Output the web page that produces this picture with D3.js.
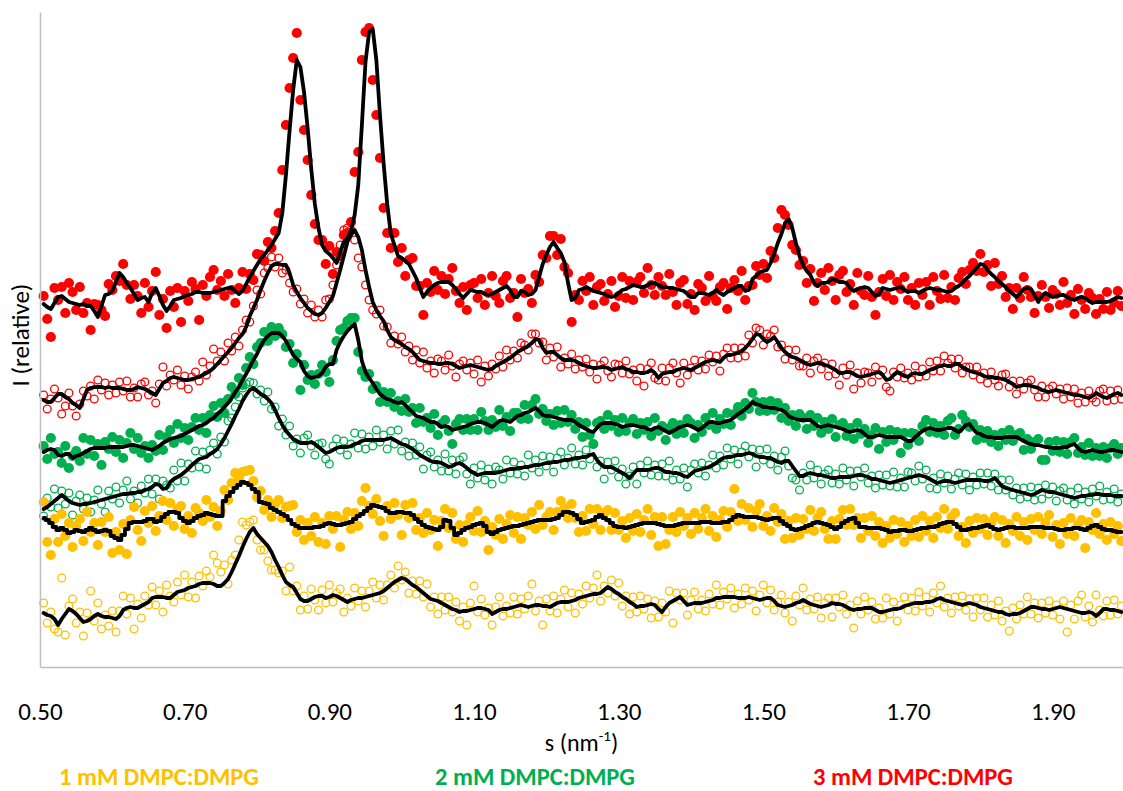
<!DOCTYPE html>
<html>
<head>
<meta charset="utf-8">
<script src="https://cdn.jsdelivr.net/npm/d3@7"></script>
<style>
html, body { margin: 0; padding: 0; background: #fff; }
svg { display: block; }
text { font-family: Carlito, Calibri, Lato, "Liberation Sans", sans-serif; }
</style>
</head>
<body>
<svg id="chart" width="1123" height="791"></svg>
<script>
// Sampling grid of the scattering vector s (nm^-1): first point and spacing
const sStart = 0.505;
const sStep = 0.005;

const xTicks = [0.50, 0.70, 0.90, 1.10, 1.30, 1.50, 1.70, 1.90];
const legendLabels = ["1 mM DMPC:DMPG", "2 mM DMPC:DMPG", "3 mM DMPC:DMPG"];
const legendColors = ["#ffc000", "#00b050", "#ff0000"];

// ---- 3 mM, solid markers: fitted curve (relative intensity, stacked) ----
const fit3Solid = [
363,360,358,364,370,371,368,365,364,363,
362,363,361,361,356,350,361,372,373,376,
385,394,390,384,379,373,367,369,370,365,
374,379,371,362,356,361,367,368,369,371,
372,373,375,375,374,374,374,375,376,377,
378,379,379,376,373,376,383,390,396,402,
408,412,417,422,428,434,454,492,536,577,
607,600,575,539,498,463,439,422,416,413,
409,404,415,425,429,437,452,482,542,605,
635,638,607,552,504,463,433,422,411,409,
406,403,396,389,379,370,375,379,382,384,
385,385,385,382,378,373,369,373,377,376,
375,375,373,372,373,375,377,379,381,377,
370,370,376,375,372,373,377,390,403,412,
420,425,419,414,405,384,367,369,377,378,
380,378,376,375,374,373,371,370,371,374,
377,378,380,382,381,380,380,382,384,384,
382,380,380,379,379,378,377,376,373,370,
370,374,374,373,372,374,377,374,372,375,
377,379,381,381,376,377,388,391,395,396,
397,404,413,424,433,444,448,439,424,411,
402,396,392,384,381,384,384,385,388,387,
385,385,384,379,376,378,379,380,379,375,
371,373,379,378,377,378,379,380,377,375,
376,376,374,376,378,379,378,377,377,376,
375,376,379,381,384,388,391,395,399,403,
402,397,393,390,386,383,380,376,373,370,
374,378,379,378,372,365,371,374,372,370,
371,372,372,370,368,367,369,370,369,366,
364,365,365,365,365,366,368,370,369];
// measured points minus the fitted curve
const dev3Solid = [
8,-12,-28,15,-3,9,-14,19,11,-6,
18,-9,3,-24,7,12,-4,-21,10,1,
6,-8,13,-2,-11,9,4,-15,14,-5,
2,16,-19,6,-17,15,-7,11,-24,5,
-6,12,3,-28,8,-3,16,22,1,9,
-7,14,-2,-12,6,19,-5,3,-9,11,
4,-6,8,-3,8,20,43,50,43,32,
27,-33,-38,-32,-26,-20,-12,5,-13,8,
-16,11,-4,7,5,8,43,33,65,30,
4,-51,-55,-43,-45,-29,-14,12,-6,10,
-15,4,13,-8,2,-18,9,-4,14,-7,
6,-12,3,17,-2,-9,11,-16,5,8,
-6,13,-11,2,18,-4,-13,7,10,-8,
4,-20,12,-1,6,-9,15,-5,9,-3,
11,6,-7,14,-5,10,-22,3,-10,8,
-4,12,-14,5,9,-7,2,16,-11,-3,
13,-9,6,-15,4,10,-6,17,-2,-12,
8,1,-8,14,-4,-16,7,11,-10,3,
-13,9,5,-7,19,-3,-11,6,12,-17,
2,8,-5,15,-9,4,-6,10,-3,7,
-8,12,-4,15,24,8,-6,-17,-7,-9,
4,-12,6,-18,3,10,-7,14,-2,-20,
7,11,-9,4,-14,16,-3,-8,12,-5,
-19,2,9,-7,15,-11,6,-2,13,-8,
3,-14,10,-4,7,-17,12,-1,-9,16,
-6,4,-12,8,11,-5,6,9,-3,10,
-7,5,-12,14,-3,8,-10,3,-15,9,
-5,12,-2,-8,-18,6,11,-4,-13,7,
2,-10,13,-6,4,-14,9,-3,-11,8,
5,-12,3,-7,10,-9,-4,6,-8];

// ---- 3 mM, open markers ----
const fit3Open = [
267,265,265,269,273,273,270,268,264,262,
259,268,277,279,280,280,280,279,280,279,
279,279,278,277,277,278,280,279,278,276,
274,272,278,284,286,289,290,289,288,287,
287,288,289,290,292,294,296,299,303,307,
311,315,319,324,329,333,340,351,359,367,
377,386,394,401,403,403,402,402,394,382,
375,369,364,359,356,353,352,354,359,365,
371,384,397,411,425,432,437,430,417,397,
380,365,357,351,346,337,330,327,325,323,
320,318,315,311,307,306,305,304,304,303,
303,304,304,303,301,299,300,301,302,301,
300,299,298,297,298,301,303,305,307,309,
312,315,317,319,321,324,328,327,319,314,
315,315,312,309,307,307,307,306,304,302,
301,300,299,299,300,300,299,297,298,299,
300,298,297,295,295,294,294,295,297,294,
289,293,294,295,295,297,298,299,298,297,
299,301,303,305,306,307,306,305,309,312,
312,313,314,316,319,323,328,333,332,328,
325,327,330,325,319,315,312,310,309,307,
305,303,302,303,304,304,302,301,299,297,
294,294,295,295,293,291,290,291,292,293,
294,295,292,287,288,292,295,293,291,290,
293,294,293,293,295,297,298,300,301,302,
301,301,303,303,300,298,296,295,294,293,
291,290,290,289,289,288,287,285,283,280,
281,282,282,281,280,279,277,276,275,276,
277,276,275,274,273,272,272,271,270,269,
271,274,272,270,269,271,273,274,272];
const dev3Open = [
5,-7,3,9,-4,-20,-9,6,-3,-11,
4,8,-6,2,-12,7,-3,5,-8,3,
-5,6,-2,9,-7,1,-10,4,7,-4,
2,-8,5,16,-5,3,-3,8,-6,4,
-9,2,6,-4,13,-2,5,19,3,8,
-5,9,-3,6,-8,4,7,-6,2,10,
-4,8,5,9,-3,6,-8,-5,-10,-7,
3,-6,4,-5,6,-3,5,-4,8,3,
11,18,25,26,14,5,-10,-21,-17,-15,
-13,-8,-4,6,-5,3,-6,4,-2,7,
-5,3,-8,6,-3,9,-6,2,-10,5,
3,-7,8,-2,-11,4,6,-4,2,-8,
7,-14,3,-6,5,-3,8,-5,10,-2,
4,-6,7,3,-4,9,5,-3,6,-7,
4,-5,8,-9,2,-4,6,-8,3,-2,
7,-5,4,-11,2,6,-3,-7,5,3,
-6,8,-4,2,-9,5,-13,3,7,-5,
-2,6,-8,4,9,-3,-14,5,-6,2,
8,-4,3,-7,6,-2,5,-9,4,7,
-3,6,-5,3,-8,9,-4,6,5,-6,
8,4,7,-5,3,-7,5,-3,8,-6,
-4,6,-8,3,5,-6,2,-10,4,-4,
-12,5,-3,7,-15,3,-6,4,2,-8,
6,-3,5,-7,-12,3,-5,6,-2,4,
-6,7,-3,5,-4,8,-2,6,-5,9,
3,7,-4,5,-6,2,4,-3,6,-5,
3,-6,5,-2,-8,4,6,-5,3,-7,
5,-4,2,6,-3,-9,4,-6,3,5,
-4,2,-7,5,-3,6,-8,3,-5,7,
-2,-9,4,8,-3,5,-6,3,-4];

// ---- 2 mM, solid markers ----
const fit2Solid = [
215,217,218,217,212,211,213,213,209,211,
212,214,216,218,219,219,219,219,220,220,
220,220,220,221,222,222,221,220,219,218,
217,219,221,224,226,228,229,230,231,233,
235,237,239,241,242,244,247,249,253,256,
260,264,269,275,280,287,293,300,307,313,
321,327,331,334,334,334,331,326,319,312,
308,305,296,291,289,290,291,294,300,303,
303,317,325,331,336,340,343,327,306,295,
289,284,278,273,270,268,267,265,264,265,
262,258,255,251,250,249,247,245,245,243,
240,241,240,237,238,239,240,241,243,244,
245,245,244,242,240,243,246,247,246,245,
248,251,252,254,255,257,259,256,252,251,
251,250,249,248,247,247,247,245,242,240,
238,236,235,239,243,244,244,244,243,242,
240,241,242,242,241,240,240,238,237,239,
240,238,236,234,236,238,240,241,242,241,
239,237,239,242,245,245,244,244,245,246,
247,250,253,255,258,261,265,263,262,260,
260,259,259,258,257,255,251,249,248,247,
247,247,247,244,241,240,241,242,241,240,
239,238,236,235,236,237,236,233,230,230,
231,232,231,230,230,230,230,230,228,226,
226,230,233,236,238,239,238,237,237,238,
239,239,237,235,238,242,243,238,234,233,
231,230,230,229,229,229,230,230,230,230,
228,226,224,223,222,222,221,220,220,219,
219,219,220,220,222,223,219,216,215,216,
217,216,215,215,216,217,217,216,215];
const dev2Solid = [
6,-9,11,-4,3,-7,8,-14,2,5,
-6,15,-3,9,-8,4,-17,6,-2,10,
-5,7,-11,3,12,-4,8,-6,2,-9,
5,-3,11,-7,4,9,-5,13,-2,6,
-8,3,10,-4,7,-10,5,12,-3,8,
-6,4,11,-2,9,-5,6,10,-4,7,
3,8,-5,6,-3,5,2,-6,4,-8,
5,-28,6,-4,3,-7,2,8,-5,-18,
4,9,12,8,10,9,6,-12,-10,-5,
4,-6,3,-8,5,-3,7,-5,2,-9,
6,-3,4,-7,9,-4,2,-6,8,-11,
3,6,-4,-14,5,9,-3,7,-6,4,
-8,10,2,-5,7,-3,11,-6,4,-9,
6,3,-4,8,-7,5,9,-3,6,-5,
2,-8,7,-4,10,-2,5,-7,3,-10,
6,-4,-12,5,3,-6,8,-3,4,-7,
9,-5,2,6,-8,4,-3,7,-6,10,
-4,3,-9,5,8,-5,2,-7,6,3,
-10,5,-4,7,-3,9,-6,4,-2,8,
-5,3,7,-4,6,-3,9,2,-6,5,
-4,7,-2,6,-8,4,-5,3,-7,6,
2,-9,5,-3,8,-6,4,-4,7,-10,
3,6,-5,4,-8,7,-3,5,-6,2,
8,-14,4,-5,7,-3,5,-16,6,-4,
8,3,-7,5,9,-4,6,-3,4,-6,
7,10,-5,3,14,4,-3,5,-7,4,
-2,6,-5,3,-8,5,-3,7,-4,2,
6,-9,4,-5,3,6,-14,-13,5,-3,
7,-4,5,-7,3,6,-5,4,-3,8,
-6,3,-4,5,-7,2,6,-3,4];

// ---- 2 mM, open markers ----
const fit2Open = [
158,160,163,166,169,172,169,166,164,163,
162,163,163,164,165,166,167,168,169,170,
171,172,173,173,174,174,175,175,177,178,
180,183,182,178,179,185,188,190,192,195,
198,202,205,208,209,210,213,215,218,223,
229,236,243,251,258,266,272,277,279,276,
273,271,268,264,257,249,242,236,232,228,
226,224,224,224,225,223,220,217,214,215,
217,219,220,220,220,221,223,224,226,227,
227,227,227,227,227,228,229,227,225,223,
222,220,218,215,212,210,208,206,205,205,
204,202,200,201,203,204,202,199,196,194,
192,193,194,194,194,194,195,196,197,198,
198,199,199,200,200,201,202,202,203,204,
204,205,205,206,207,207,208,209,209,210,
210,212,213,207,203,200,200,200,198,196,
194,192,189,193,197,197,197,197,198,199,
199,197,195,195,194,194,193,191,190,193,
196,197,198,199,200,202,204,207,209,210,
210,211,212,212,213,214,213,211,210,210,
209,209,207,205,204,206,206,201,196,191,
191,193,194,193,192,192,191,190,189,189,
190,190,190,190,191,192,192,191,190,188,
188,187,186,185,184,185,186,187,188,189,
190,191,192,191,190,188,186,184,185,186,
186,185,184,185,186,187,187,187,187,187,
186,186,187,189,185,181,179,178,177,176,
175,174,173,172,173,175,177,176,175,175,
174,173,172,171,170,169,170,171,171,172,
172,173,173,172,172,172,171,171,171];
const dev2Open = [
-7,9,-3,12,-10,4,-6,8,-12,3,
10,-5,6,-9,2,11,-4,-13,7,-2,
9,-8,4,13,-6,2,-11,6,-3,10,
-7,5,-14,8,3,-6,9,-4,12,-9,
5,-3,11,-8,6,-12,4,9,-5,7,
-4,10,6,9,12,13,11,8,5,-3,
4,-5,7,-6,3,-8,6,-4,9,-7,
2,-10,5,8,-4,-11,3,7,-6,-12,
4,9,-3,6,-8,2,11,-5,7,-9,
3,-6,10,-2,5,-10,7,-4,12,-7,
3,-9,6,-3,8,-12,4,9,-5,2,
-8,11,-4,6,-10,3,8,-6,-13,5,
-3,9,-7,4,-11,6,2,-8,10,-4,
7,-6,3,-9,12,-2,5,-7,8,-3,
6,-10,4,9,-5,2,11,-6,3,-8,
7,-4,10,-7,3,-12,5,-3,8,-6,
4,-9,2,7,-14,5,-3,9,-6,3,
-8,6,-4,11,-7,3,-5,8,-10,4,
7,-3,6,-8,2,10,-5,4,-7,9,
-2,6,-9,3,8,-4,5,-11,7,-3,
9,-6,4,-8,6,10,-5,-12,-9,-14,
3,-6,8,-4,5,-9,2,7,-5,4,
-7,9,-3,6,-10,4,-2,8,-6,3,
-9,5,-4,7,-3,10,-6,2,-8,6,
4,-5,9,-3,7,-9,3,-6,8,-2,
5,-7,4,9,-4,6,-10,3,-5,7,
-3,8,-6,4,-8,6,-2,9,-5,3,
-7,5,-3,8,-6,4,-9,6,-2,5,
-8,3,7,-4,5,-6,9,-3,4,-7,
6,-2,8,-5,3,-4,7,-6,2];

// ---- 1 mM, solid markers ----
const fit1Solid = [
149,147,144,140,137,139,137,134,135,137,
136,135,137,139,137,135,136,137,136,131,
129,127,132,138,144,145,145,145,146,148,
148,145,146,150,153,155,155,154,149,146,
144,146,149,151,152,154,153,152,151,151,
166,171,175,179,182,185,184,182,178,175,
165,164,163,159,157,155,153,151,147,143,
141,139,139,139,139,140,140,141,143,144,
143,142,142,143,144,145,148,151,153,156,
159,162,161,160,159,156,154,154,155,155,
154,154,152,148,145,142,140,139,138,137,
140,147,146,139,132,134,137,139,140,142,
143,144,141,135,133,135,137,138,139,140,
141,141,142,143,144,145,146,147,147,147,
147,148,149,152,155,155,154,152,148,144,
145,146,147,150,152,149,147,144,141,140,
140,139,140,141,142,143,144,144,144,144,
143,142,141,141,141,142,143,144,144,144,
144,144,145,145,145,144,144,144,145,145,
147,150,152,151,150,150,150,150,149,148,
147,148,149,149,146,143,141,138,137,138,
139,141,142,144,145,144,143,142,140,138,
140,144,146,148,149,144,140,140,139,139,
139,139,138,137,135,136,136,137,137,136,
136,137,138,139,139,140,140,141,143,144,
145,145,143,140,137,137,138,139,139,140,
141,142,140,138,137,138,139,140,140,139,
139,139,139,140,140,140,140,139,139,139,
138,137,137,138,138,139,139,138,137,139,
141,142,140,138,137,137,136,135,135];
const dev1Solid = [
16,-22,-32,8,-12,14,-6,10,-15,4,
12,-9,18,-4,7,-13,9,-2,14,-17,
6,-10,11,-25,3,15,-8,-19,10,-4,
13,-9,5,16,-6,9,-14,4,12,-8,
7,-12,10,3,-6,13,-3,8,-10,5,
11,-4,9,15,6,10,12,15,8,-5,
11,-7,4,-9,6,12,-4,9,14,19,
-6,8,-12,5,-8,10,-15,3,-20,7,
-5,9,-22,4,11,-7,6,-10,13,23,
2,-9,7,-14,-28,5,-6,10,-3,-23,
8,-5,12,-11,4,-8,14,-2,9,-16,
6,11,-7,15,-4,8,-12,3,10,-6,
13,-9,5,-18,7,-3,11,-10,4,12,
-7,9,-14,6,-2,10,-8,15,-5,3,
8,-11,6,14,4,-6,9,-3,-13,7,
-9,12,-4,8,-15,5,10,-7,13,-3,
6,-10,9,-5,11,-8,3,14,-12,6,
-22,8,-18,-4,9,-7,12,-3,5,-11,
10,-6,4,13,-9,7,-14,3,11,-5,
8,28,-6,12,-3,9,-10,6,14,-7,
4,-12,10,-4,7,-15,5,-9,12,-6,
9,-3,15,-8,4,11,-5,-14,6,-10,
8,13,-4,10,-7,5,-11,9,-3,12,
-8,6,-14,4,-6,11,-3,8,-12,5,
-5,10,-8,12,-3,6,-11,9,-4,14,
-7,5,11,-9,3,-13,8,-5,10,-2,
7,-10,4,12,-6,9,-15,3,-4,11,
-8,6,-12,8,-3,10,-7,5,13,-9,
4,-14,7,-5,11,-8,3,9,-18,6,
-4,12,-7,5,-10,8,-3,6,-9];

// ---- 1 mM, open markers ----
const fit1Open = [
54,52,51,48,42,48,53,58,56,53,
49,45,46,48,51,53,51,50,50,49,
48,51,57,59,60,59,59,61,63,65,
69,70,70,70,69,69,72,75,76,77,
79,80,81,83,84,84,84,83,81,81,
84,88,95,103,111,120,128,135,139,133,
129,125,121,115,107,100,92,85,82,80,
74,68,66,66,68,70,71,71,69,70,
72,71,69,67,65,67,68,69,69,70,
71,72,73,74,76,79,82,85,87,89,
88,85,82,80,77,74,71,68,67,66,
64,62,60,58,57,55,56,56,57,58,
59,59,58,57,53,55,57,58,58,59,
60,61,62,61,60,61,62,62,61,61,
60,62,64,65,65,65,66,67,69,70,
71,72,73,73,74,77,80,78,75,73,
70,68,65,63,60,61,61,62,63,62,
58,55,60,64,66,68,70,66,62,63,
64,64,64,65,66,67,69,69,70,70,
70,70,69,69,69,70,69,68,67,68,
69,69,66,62,61,60,61,62,64,65,
67,65,63,62,61,60,61,62,64,63,
63,62,60,58,57,58,58,59,59,59,
57,55,55,56,57,58,58,59,61,62,
63,64,64,64,65,65,66,68,69,67,
66,65,64,63,62,63,64,63,62,60,
59,58,57,56,55,55,53,52,53,53,
54,56,58,60,60,59,58,58,57,58,
59,60,59,58,57,56,55,54,54,55,
54,51,54,58,58,57,57,56,55];
const dev1Open = [
10,-8,4,-10,-7,41,-21,3,12,-9,
6,-14,8,28,-5,11,-13,2,-9,7,
-13,5,14,-6,9,-21,4,-12,8,-3,
11,-8,6,-15,13,2,-7,10,-4,15,
-9,5,-12,8,-3,12,6,29,23,14,
18,-5,12,9,16,25,14,10,8,-6,
-12,-8,-15,-18,-10,-6,4,-9,18,-4,
7,-11,5,-8,10,-3,-14,6,-5,12,
-7,3,9,-12,4,-6,11,-3,7,-10,
5,13,-4,8,-9,3,10,-6,14,-2,
7,-11,4,-7,9,-4,12,-8,3,-13,
6,-5,10,-3,8,-9,4,-14,7,23,
-4,9,-6,2,-11,5,13,-7,3,-5,
10,-8,6,-3,11,22,-6,4,-19,7,
-4,9,-10,3,12,-5,8,-13,4,-7,
10,-3,6,19,-8,4,-6,9,-4,11,
-9,3,-12,7,-5,10,-3,6,-14,4,
-8,9,-5,12,-22,6,-3,8,-10,4,
11,-6,3,-9,7,-4,13,-7,5,-2,
9,-11,4,-6,10,-3,7,-12,5,14,
-5,8,-9,3,11,-6,4,-16,7,-3,
12,-8,5,-4,9,-11,3,7,-14,6,
-3,10,-7,4,-18,8,-5,11,-2,6,
-9,4,-6,13,-4,7,-12,3,9,-5,
6,-8,11,-3,5,-10,8,-4,12,-7,
3,-11,6,-2,9,-6,4,-13,7,-3,
10,-8,5,-4,11,-9,3,-16,6,-5,
8,-3,12,-7,4,-10,6,-4,9,-6,
3,-12,7,-23,5,-8,11,18,-4,6,
-9,21,3,-7,8,-5,10,-3,6];

// Series styling table built from the arrays above
const series = [
  { fit: fit3Solid, dev: dev3Solid, color: "#ff0000", filled: true,  step: false },
  { fit: fit3Open,  dev: dev3Open,  color: "#ff0000", filled: false, step: false },
  { fit: fit2Solid, dev: dev2Solid, color: "#00b050", filled: true,  step: false },
  { fit: fit2Open,  dev: dev2Open,  color: "#00b050", filled: false, step: false },
  { fit: fit1Solid, dev: dev1Solid, color: "#ffc000", filled: true,  step: true  },
  { fit: fit1Open,  dev: dev1Open,  color: "#ffc000", filled: false, step: false }
];

const W = 1123, H = 791;
const svg = d3.select("#chart");

const x = d3.scaleLinear().domain([0.5, 2.0]).range([40, 1125]);
const y = d3.scaleLinear().domain([0, 655]).range([667, 12]);
const sAt = i => sStart + sStep * i;

// measured points
const dotsLayer = svg.append("g").attr("class", "dots");
series.forEach(sr => {
  const n = Math.min(sr.fit.length, sr.dev.length);
  const pts = d3.range(n).map(i => ({ s: sAt(i), v: sr.fit[i] + sr.dev[i] }));
  dotsLayer.append("g").selectAll("circle")
    .data(pts)
    .join("circle")
    .attr("cx", d => x(d.s))
    .attr("cy", d => y(d.v))
    .attr("r", sr.filled ? 5.1 : 3.9)
    .attr("fill", sr.filled ? sr.color : "none")
    .attr("stroke", sr.filled ? "none" : sr.color)
    .attr("stroke-width", 1.3);
});

// fitted curves
const linesLayer = svg.append("g").attr("class", "fits");
series.forEach(sr => {
  const line = d3.line()
    .x((d, i) => x(sAt(i)))
    .y(d => y(d))
    .curve(sr.step ? d3.curveStep : d3.curveLinear);
  linesLayer.append("path")
    .datum(sr.fit)
    .attr("d", line)
    .attr("fill", "none")
    .attr("stroke", "#000")
    .attr("stroke-width", 3.8)
    .attr("stroke-linejoin", "round")
    .attr("stroke-linecap", "round");
});

// axes
const xAxis = d3.axisBottom(x)
  .tickValues(xTicks)
  .tickFormat(d3.format(".2f"))
  .tickSize(0)
  .tickPadding(35);
const gx = svg.append("g").attr("transform", `translate(0,${y(0)})`).call(xAxis);
gx.select(".domain").attr("stroke", "#bfbfbf").attr("stroke-width", 1.5);
gx.selectAll("text")
  .attr("font-size", 25)
  .attr("fill", "#000")
  .style("font-family", "Carlito, Calibri, Lato, sans-serif");

const yAxis = d3.axisLeft(y).tickValues([]).tickSize(0);
const gy = svg.append("g").attr("transform", `translate(${x(0.5)},0)`).call(yAxis);
gy.select(".domain").attr("stroke", "#bfbfbf").attr("stroke-width", 1.5);

// axis titles
const xTitle = svg.append("text")
  .attr("x", (40 + W) / 2)
  .attr("y", 751)
  .attr("text-anchor", "middle")
  .attr("font-size", 24)
  .attr("fill", "#000");
xTitle.append("tspan").text("s (nm");
xTitle.append("tspan").attr("font-size", 15).attr("dy", -10).text("-1");
xTitle.append("tspan").attr("dy", 10).text(")");

svg.append("text")
  .attr("transform", "translate(29,335) rotate(-90)")
  .attr("text-anchor", "middle")
  .attr("font-size", 25)
  .attr("fill", "#000")
  .text("I (relative)");

// legend
const legendX = [159, 535, 913];
svg.append("g").selectAll("text")
  .data(legendLabels)
  .join("text")
  .attr("x", (d, i) => legendX[i])
  .attr("y", 785)
  .attr("text-anchor", "middle")
  .attr("font-size", 24.5)
  .attr("font-weight", "bold")
  .attr("fill", (d, i) => legendColors[i])
  .text(d => d);
</script>
</body>
</html>
